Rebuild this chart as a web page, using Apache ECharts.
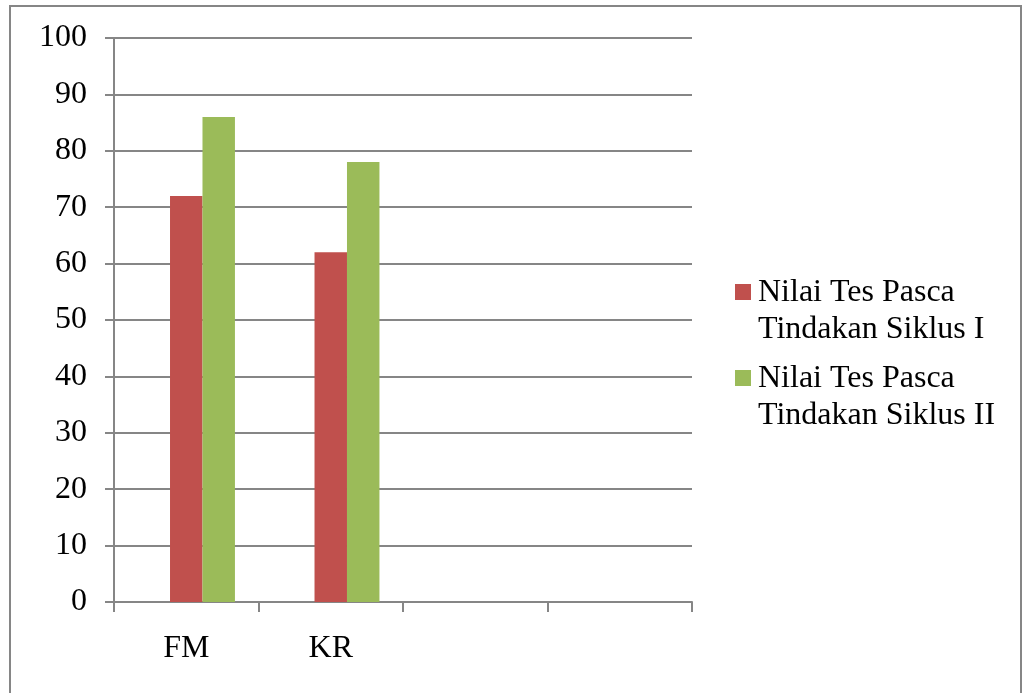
<!DOCTYPE html>
<html>
<head>
<meta charset="utf-8">
<script src="https://cdn.jsdelivr.net/npm/echarts@6/dist/echarts.min.js"></script>
<style>
  html, body { margin: 0; padding: 0; background: #fff; }
  #chart { width: 1022px; height: 693px; }
</style>
</head>
<body>
<div id="chart"></div>
<script>
// Categories on the x axis (the last two slots are left empty)
const categories = ['FM', 'KR', '', ''];
// Scores for the two post-test cycles
const siklusI = [72, 62, null, null];
const siklusII = [86, 78, null, null];
// Empty first series slot (keeps the bar group layout)
const placeholder = [null, null, null, null];
const seriesNames = ['Nilai Tes Pasca\nTindakan Siklus I', 'Nilai Tes Pasca\nTindakan Siklus II'];

const gray = '#868686';
const font = 'Liberation Serif';
const fontSize = 32;

// Legend swatch: 16px square at the top of a taller box so it sits beside the first text line
const swatch = 'path://M0,0H16V16H0Z M0,54L16,54';

const chart = echarts.init(document.getElementById('chart'), null, { renderer: 'canvas' });
chart.setOption({
  animation: false,
  backgroundColor: '#fff',
  grid: { left: 114, right: 330, top: 38, bottom: 91 },
  legend: {
    data: seriesNames,
    orient: 'vertical',
    left: 730,
    top: 269,
    itemWidth: 16,
    itemHeight: 54,
    itemGap: 12,
    icon: swatch,
    itemStyle: { borderWidth: 0 },
    textStyle: { fontFamily: font, fontSize: fontSize, color: '#000', lineHeight: 37, padding: [0, 0, 0, 2] }
  },
  xAxis: {
    type: 'category',
    data: categories,
    boundaryGap: true,
    axisLine: { lineStyle: { color: gray, width: 2 } },
    axisTick: { show: true, length: 10, lineStyle: { color: gray, width: 2 } },
    axisLabel: { fontFamily: font, fontSize: fontSize, color: '#000', margin: 31 },
    splitLine: { show: false }
  },
  yAxis: {
    type: 'value',
    min: 0,
    max: 100,
    interval: 10,
    axisLine: { show: true, lineStyle: { color: gray, width: 2 } },
    axisTick: { show: true, length: 9, lineStyle: { color: gray, width: 2 } },
    axisLabel: { fontFamily: font, fontSize: fontSize, color: '#000', margin: 27 },
    splitLine: { show: true, lineStyle: { color: gray, width: 2 } }
  },
  series: [
    { name: '_empty', type: 'bar', data: placeholder, barGap: '0%', barCategoryGap: '32.6%' },
    { name: seriesNames[0], type: 'bar', data: siklusI, barGap: '0%', barCategoryGap: '32.6%',
      itemStyle: { color: '#C0504D' } },
    { name: seriesNames[1], type: 'bar', data: siklusII, barGap: '0%', barCategoryGap: '32.6%',
      itemStyle: { color: '#9BBB59' } }
  ],
  graphic: [{
    type: 'rect',
    shape: { x: 10, y: 6, width: 1011, height: 700 },
    style: { fill: 'none', stroke: gray, lineWidth: 2 },
    silent: true
  }]
});
</script>
</body>
</html>
